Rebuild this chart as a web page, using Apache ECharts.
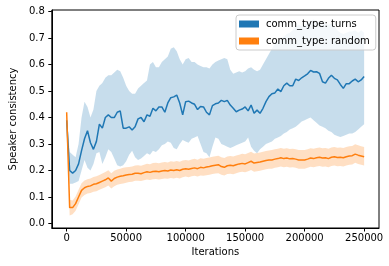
<!DOCTYPE html>
<html><head><meta charset="utf-8">
<script src="https://cdn.jsdelivr.net/npm/echarts@6/dist/echarts.min.js"></script>
<style>html,body{margin:0;padding:0;background:#fff}#c{width:389px;height:266px}</style>
</head><body><div id="c"></div>
<script>
const iterations = [0,2500,5000,7500,10000,12500,15000,17500,20000,22500,25000,27500,30000,32500,35000,37500,40000,42500,45000,47500,
50000,52500,55000,57500,60000,62500,65000,67500,70000,72500,75000,77500,80000,82500,85000,87500,90000,92500,95000,97500,
100000,102500,105000,107500,110000,112500,115000,117500,120000,122500,125000,127500,130000,132500,135000,137500,140000,142500,145000,147500,
150000,152500,155000,157500,160000,162500,165000,167500,170000,172500,175000,177500,180000,182500,185000,187500,190000,192500,195000,197500,
200000,202500,205000,207500,210000,212500,215000,217500,220000,222500,225000,227500,230000,232500,235000,237500,240000,242500,245000,247500,250000];

const turnsMean = [0.39,0.20,0.19,0.20,0.225,0.275,0.32,0.35,0.305,0.28,0.31,0.375,0.36,0.40,0.41,0.40,0.40,0.42,0.425,0.36,
0.36,0.365,0.353,0.365,0.395,0.40,0.384,0.41,0.405,0.435,0.425,0.44,0.44,0.42,0.455,0.475,0.478,0.485,0.455,0.41,
0.46,0.462,0.455,0.45,0.43,0.442,0.44,0.42,0.41,0.445,0.452,0.455,0.465,0.46,0.465,0.447,0.435,0.422,0.428,0.432,
0.44,0.425,0.447,0.416,0.428,0.416,0.435,0.46,0.479,0.49,0.493,0.508,0.498,0.52,0.53,0.52,0.52,0.545,0.54,0.55,
0.557,0.565,0.578,0.572,0.573,0.567,0.535,0.53,0.548,0.56,0.548,0.542,0.525,0.51,0.528,0.528,0.538,0.545,0.535,0.542,0.555];

const turnsLower = [0.32,0.15,0.15,0.155,0.16,0.20,0.24,0.21,0.20,0.225,0.265,0.27,0.225,0.25,0.28,0.27,0.245,0.22,0.215,0.22,
0.235,0.26,0.275,0.25,0.24,0.245,0.255,0.265,0.26,0.275,0.27,0.28,0.295,0.30,0.31,0.305,0.285,0.28,0.30,0.315,
0.31,0.305,0.32,0.325,0.33,0.30,0.27,0.265,0.25,0.29,0.325,0.32,0.30,0.295,0.29,0.285,0.29,0.295,0.30,0.305,
0.31,0.325,0.29,0.275,0.265,0.28,0.29,0.30,0.305,0.31,0.32,0.325,0.33,0.34,0.345,0.355,0.36,0.365,0.375,0.385,
0.39,0.395,0.40,0.39,0.38,0.37,0.365,0.36,0.35,0.345,0.335,0.33,0.327,0.33,0.335,0.34,0.34,0.345,0.355,0.365,0.375];

const turnsUpper = [0.41,0.27,0.26,0.25,0.30,0.40,0.46,0.44,0.40,0.43,0.50,0.52,0.53,0.55,0.56,0.56,0.57,0.58,0.575,0.55,
0.52,0.50,0.49,0.49,0.51,0.52,0.53,0.54,0.60,0.61,0.59,0.59,0.61,0.62,0.63,0.66,0.665,0.65,0.62,0.60,
0.62,0.625,0.61,0.61,0.60,0.595,0.59,0.59,0.585,0.60,0.61,0.615,0.62,0.625,0.62,0.58,0.565,0.57,0.575,0.57,
0.575,0.585,0.59,0.58,0.575,0.58,0.60,0.62,0.64,0.66,0.68,0.69,0.70,0.705,0.715,0.72,0.73,0.745,0.75,0.745,
0.75,0.755,0.765,0.77,0.765,0.76,0.765,0.755,0.75,0.755,0.745,0.73,0.72,0.715,0.72,0.725,0.725,0.73,0.72,0.73,0.72];

const randomMean = [0.42,0.06,0.06,0.075,0.10,0.125,0.135,0.14,0.142,0.148,0.15,0.155,0.16,0.165,0.172,0.16,0.17,0.175,0.178,0.18,
0.183,0.185,0.186,0.19,0.19,0.188,0.192,0.195,0.193,0.196,0.197,0.195,0.198,0.20,0.198,0.202,0.20,0.203,0.20,0.205,
0.207,0.205,0.208,0.21,0.207,0.212,0.21,0.213,0.215,0.218,0.22,0.222,0.215,0.212,0.218,0.22,0.218,0.222,0.225,0.227,
0.225,0.23,0.235,0.228,0.23,0.232,0.235,0.238,0.24,0.24,0.243,0.245,0.248,0.245,0.247,0.244,0.245,0.243,0.24,0.24,
0.24,0.243,0.247,0.245,0.248,0.25,0.247,0.248,0.245,0.25,0.252,0.249,0.25,0.248,0.252,0.255,0.256,0.262,0.258,0.255,0.252];

const randomLower = [0.40,0.03,0.035,0.048,0.073,0.098,0.108,0.113,0.115,0.12,0.122,0.127,0.132,0.137,0.143,0.132,0.141,0.146,0.149,0.151,
0.154,0.157,0.158,0.161,0.161,0.16,0.163,0.166,0.164,0.167,0.168,0.166,0.168,0.17,0.169,0.172,0.17,0.173,0.17,0.175,
0.177,0.175,0.178,0.18,0.177,0.181,0.18,0.182,0.184,0.187,0.189,0.19,0.184,0.181,0.187,0.188,0.186,0.19,0.193,0.195,
0.193,0.197,0.202,0.195,0.197,0.199,0.202,0.205,0.207,0.207,0.21,0.212,0.215,0.212,0.214,0.211,0.212,0.21,0.207,0.207,
0.207,0.21,0.214,0.212,0.215,0.217,0.214,0.215,0.212,0.217,0.219,0.216,0.217,0.215,0.219,0.222,0.223,0.229,0.225,0.222,0.219];

const randomUpper = [0.43,0.09,0.087,0.102,0.127,0.152,0.162,0.167,0.17,0.176,0.178,0.183,0.189,0.194,0.201,0.19,0.199,0.204,0.207,0.21,
0.212,0.213,0.215,0.219,0.22,0.218,0.222,0.226,0.224,0.228,0.229,0.227,0.23,0.232,0.23,0.235,0.233,0.236,0.233,0.238,
0.24,0.238,0.242,0.244,0.241,0.246,0.244,0.247,0.249,0.252,0.254,0.256,0.25,0.247,0.253,0.255,0.253,0.257,0.26,0.263,
0.261,0.266,0.271,0.264,0.266,0.268,0.271,0.274,0.276,0.277,0.28,0.282,0.285,0.282,0.284,0.281,0.282,0.28,0.277,0.277,
0.277,0.28,0.284,0.282,0.285,0.287,0.284,0.285,0.282,0.287,0.289,0.286,0.287,0.285,0.289,0.292,0.293,0.299,0.295,0.292,0.289];

const xTicks = [0,50000,100000,150000,200000,250000];
const yTicks = [0,0.1,0.2,0.3,0.4,0.5,0.6,0.7,0.8];
const seriesNames = ['comm_type: turns','comm_type: random'];
const seriesColors = ['#1f77b4','#ff7f0e'];
const bandColors = ['rgba(31,119,180,0.25)','rgba(255,127,14,0.25)'];

function bandSeries(name, lower, upper, color, z) {
  return {
    type: 'custom', name: name + ' band', silent: true, z: z,
    data: iterations.map((x, i) => [x, lower[i], upper[i]]),
    encode: { x: 0, y: [1, 2] },
    renderItem(params, api) {
      if (params.dataIndex !== 0) return null;
      const pts = [];
      for (let i = 0; i < iterations.length; i++) pts.push(api.coord([iterations[i], upper[i]]));
      for (let i = iterations.length - 1; i >= 0; i--) pts.push(api.coord([iterations[i], lower[i]]));
      return { type: 'polygon', shape: { points: pts }, style: { fill: color } };
    }
  };
}
function lineSeries(name, mean, color) {
  return {
    type: 'line', name: name, z: 5, showSymbol: false, symbol: 'none',
    data: iterations.map((x, i) => [x, mean[i]]),
    lineStyle: { width: 1.5, color: color }, itemStyle: { color: color }
  };
}

const font = 'DejaVu Sans';
const chart = echarts.init(document.getElementById('c'), null, { renderer: 'canvas' });
chart.setOption({
  animation: false,
  backgroundColor: '#fff',
  textStyle: { fontFamily: font },
  grid: { left: 44, right: 10, top: 10, bottom: 38, show: true, borderColor: '#000', borderWidth: 1, backgroundColor: 'transparent' },
  legend: {
    data: seriesNames, orient: 'vertical', left: 236, top: 15,
    icon: 'rect', itemWidth: 20, itemHeight: 7, itemGap: 5,
    padding: [3, 6, 3, 3],
    backgroundColor: 'rgba(255,255,255,0.8)', borderColor: '#cccccc', borderWidth: 1, borderRadius: 3,
    textStyle: { fontFamily: font, fontSize: 10, color: '#000', lineHeight: 12, padding: [0, 0, 0, 2] }
  },
  xAxis: {
    type: 'value', min: -12500, max: 262500,
    name: 'Iterations', nameLocation: 'middle', nameGap: 19,
    nameTextStyle: { fontFamily: font, fontSize: 10, color: '#000' },
    axisLine: { show: true, onZero: false, lineStyle: { color: '#000', width: 1 } },
    axisTick: { show: true, length: 3.5, lineStyle: { color: '#000', width: 1 }, customValues: xTicks },
    axisLabel: { fontFamily: font, fontSize: 10, color: '#000', margin: 5, customValues: xTicks, formatter: v => String(v) },
    splitLine: { show: false }
  },
  yAxis: {
    type: 'value', min: -0.017, max: 0.806,
    name: 'Speaker consistency', nameLocation: 'middle', nameGap: 28,
    nameTextStyle: { fontFamily: font, fontSize: 10, color: '#000' },
    axisLine: { show: true, onZero: false, lineStyle: { color: '#000', width: 1 } },
    axisTick: { show: true, length: 3.5, lineStyle: { color: '#000', width: 1 }, customValues: yTicks },
    axisLabel: { fontFamily: font, fontSize: 10, color: '#000', margin: 7, customValues: yTicks, formatter: v => v.toFixed(1) },
    splitLine: { show: false }
  },
  series: [
    bandSeries(seriesNames[0], turnsLower, turnsUpper, bandColors[0], 1),
    bandSeries(seriesNames[1], randomLower, randomUpper, bandColors[1], 2),
    lineSeries(seriesNames[0], turnsMean, seriesColors[0]),
    lineSeries(seriesNames[1], randomMean, seriesColors[1])
  ]
});
</script></body></html>
